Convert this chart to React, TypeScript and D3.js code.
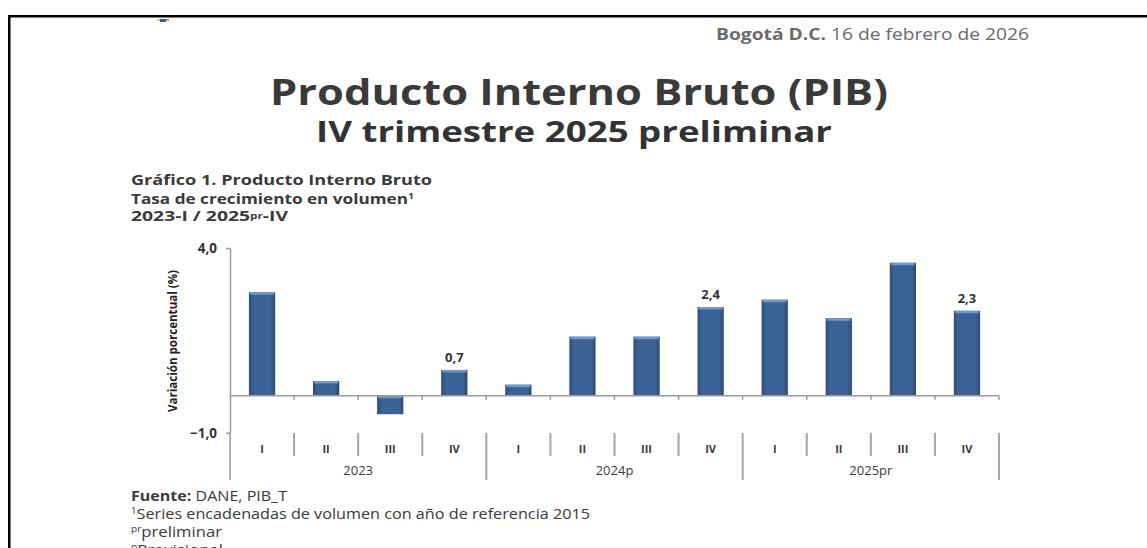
import React, { useEffect, useRef } from "react";
import * as d3 from "d3";

// quarters, year groups and growth rates (%)
const quarters = ["I", "II", "III", "IV", "I", "II", "III", "IV", "I", "II", "III", "IV"];
const years = ["2023", "2024p", "2025pr"];
const growth = [2.8, 0.4, -0.5, 0.7, 0.3, 1.6, 1.6, 2.4, 2.6, 2.1, 3.6, 2.3];
const labelled = [3, 7, 11];
const yTicks = [-1, 4];

const W = 1147;
const H = 548;

const App = () => {
  const ref = useRef<SVGSVGElement>(null);

  useEffect(() => {
    const svg = d3.select(ref.current);
    svg.selectAll("*").remove();

    const fmt = d3.formatLocale({ decimal: ",", thousands: ".", grouping: [3], currency: ["$", ""] }).format(".1f");
    const font = "'Open Sans', 'Noto Sans', sans-serif";
    const ids = growth.map((_, i) => String(i));

    const slot = d3.scaleBand().domain(ids).range([230, 999]);
    const x = d3.scaleBand().domain(ids).range([230, 999]).paddingInner(0.59).paddingOuter(0.295);
    const y = d3.scaleLinear().domain([-1, 4]).range([432.7, 248]);

    // the page is a bit stretched sideways, so long texts get a fixed width
    const fit = (sel: any, len: number) => sel.attr("textLength", len).attr("lengthAdjust", "spacingAndGlyphs");

    const defs = svg.append("defs");
    const grad = defs.append("linearGradient").attr("id", "barGrad").attr("x1", 0).attr("x2", 1).attr("y1", 0).attr("y2", 0);
    grad.append("stop").attr("offset", 0).attr("stop-color", "#2c4f7d");
    grad.append("stop").attr("offset", 0.18).attr("stop-color", "#3b6395");
    grad.append("stop").attr("offset", 0.82).attr("stop-color", "#3b6395");
    grad.append("stop").attr("offset", 1).attr("stop-color", "#2a4a75");

    // page frame
    svg.append("rect").attr("x", 8).attr("y", 15).attr("width", W - 8).attr("height", 2.5).attr("fill", "#000");
    svg.append("rect").attr("x", 8).attr("y", 15).attr("width", 2.5).attr("height", H - 15).attr("fill", "#000");
    // tiny logo remnant
    svg.append("rect").attr("x", 157).attr("y", 19).attr("width", 3).attr("height", 2).attr("fill", "#e8c34a");
    svg.append("rect").attr("x", 160).attr("y", 19).attr("width", 6).attr("height", 3).attr("fill", "#2a62a8");
    svg.append("rect").attr("x", 166).attr("y", 19).attr("width", 3).attr("height", 1.5).attr("fill", "#d9534f");

    const date = svg.append("text").attr("x", 716).attr("y", 39.5).attr("font-family", font).attr("font-size", 15.5).attr("fill", "#6a6a6a");
    date.append("tspan").attr("font-weight", "bold").text("Bogotá D.C.");
    date.append("tspan").text(" 16 de febrero de 2026");
    fit(date, 313);

    fit(svg.append("text").attr("x", 270).attr("y", 105)
      .attr("font-family", font).attr("font-weight", "bold").attr("font-size", 35).attr("fill", "#3a3a3a")
      .text("Producto Interno Bruto (PIB)"), 618);
    fit(svg.append("text").attr("x", 316).attr("y", 142)
      .attr("font-family", font).attr("font-weight", "bold").attr("font-size", 28).attr("fill", "#333")
      .text("IV trimestre 2025 preliminar"), 516);

    const head = svg.append("g").attr("font-family", font).attr("font-weight", "bold").attr("font-size", 14).attr("fill", "#3a3a3a");
    fit(head.append("text").attr("x", 131).attr("y", 185).text("Gráfico 1. Producto Interno Bruto"), 301);
    const l2 = head.append("text").attr("x", 131).attr("y", 203.5);
    l2.append("tspan").text("Tasa de crecimiento en volumen");
    l2.append("tspan").attr("font-size", 8.5).attr("dy", -5).text("1");
    fit(l2, 283);
    const l3 = head.append("text").attr("x", 131).attr("y", 221);
    l3.append("tspan").text("2023-I / 2025");
    l3.append("tspan").attr("font-size", 8.5).attr("dy", -2).text("pr");
    l3.append("tspan").attr("dy", 2).text("-IV");
    fit(l3, 157);

    // y axis
    const yAxis = svg.append("g").attr("transform", "translate(230,0)")
      .call(d3.axisLeft(y).tickValues(yTicks).tickFormat((d) => fmt(d as number)).tickSize(4).tickSizeOuter(0).tickPadding(9));
    yAxis.select(".domain").attr("stroke", "#9a9a9a").attr("stroke-width", 1.5);
    yAxis.selectAll(".tick line").attr("stroke", "#9a9a9a").attr("stroke-width", 1.5);
    yAxis.selectAll(".tick text").attr("font-family", font).attr("font-size", 13.5).attr("font-weight", "bold").attr("fill", "#333");
    svg.append("line").attr("x1", 230).attr("x2", 230).attr("y1", y(-1)).attr("y2", 480).attr("stroke", "#9a9a9a").attr("stroke-width", 1.5);

    fit(svg.append("text").attr("transform", `translate(177,341) rotate(-90)`).attr("text-anchor", "middle")
      .attr("font-family", font).attr("font-weight", "bold").attr("font-size", 12.5).attr("fill", "#222")
      .text("Variación porcentual (%)"), 142);

    // bars
    const bars = svg.append("g");
    growth.forEach((v, i) => {
      const x0 = x(String(i))!;
      const top = y(Math.max(0, v));
      const h = Math.abs(y(v) - y(0));
      bars.append("rect").attr("x", x0).attr("y", top).attr("width", x.bandwidth()).attr("height", h).attr("fill", "url(#barGrad)");
      bars.append("rect").attr("x", x0 + 1).attr("y", top).attr("width", x.bandwidth() - 2).attr("height", 2.5).attr("rx", 1).attr("fill", "#6f97c8");
    });

    // zero line with small ticks
    svg.append("line").attr("x1", 230).attr("x2", 999).attr("y1", y(0)).attr("y2", y(0)).attr("stroke", "#9a9a9a").attr("stroke-width", 1.5);
    ids.forEach((id) => {
      const bx = slot(id)! + slot.bandwidth();
      svg.append("line").attr("x1", bx).attr("x2", bx).attr("y1", y(0)).attr("y2", y(0) + 4).attr("stroke", "#9a9a9a").attr("stroke-width", 1.5);
    });

    // value labels
    labelled.forEach((i) => {
      svg.append("text").attr("x", x(String(i))! + x.bandwidth() / 2).attr("y", y(growth[i]) - 8)
        .attr("text-anchor", "middle").attr("font-family", font).attr("font-weight", "bold").attr("font-size", 13).attr("fill", "#333")
        .text(fmt(growth[i]));
    });

    // category axis: quarters and year groups
    const cat = svg.append("g").attr("font-family", font).attr("fill", "#3a3a3a");
    ids.forEach((id, i) => {
      const cx = slot(id)! + slot.bandwidth() / 2;
      cat.append("text").attr("x", cx).attr("y", 453).attr("text-anchor", "middle").attr("font-size", 11).attr("font-weight", "bold").text(quarters[i]);
      const bx = slot(id)! + slot.bandwidth();
      const yearEnd = (i + 1) % 4 === 0;
      svg.append("line").attr("x1", bx).attr("x2", bx).attr("y1", 433).attr("y2", yearEnd ? 480 : 456)
        .attr("stroke", "#a5a5a5").attr("stroke-width", 2);
    });
    years.forEach((yr, k) => {
      const x0 = slot(String(k * 4))!;
      const x1 = slot(String(k * 4 + 3))! + slot.bandwidth();
      cat.append("text").attr("x", (x0 + x1) / 2).attr("y", 475).attr("text-anchor", "middle").attr("font-size", 13).text(yr);
    });

    // footnotes
    const foot = svg.append("g").attr("font-family", font).attr("font-size", 14).attr("fill", "#3a3a3a");
    const f1 = foot.append("text").attr("x", 131).attr("y", 501);
    f1.append("tspan").attr("font-weight", "bold").text("Fuente:");
    f1.append("tspan").text(" DANE, PIB_T");
    fit(f1, 156);
    const f2 = foot.append("text").attr("x", 131).attr("y", 519);
    f2.append("tspan").attr("font-size", 8.5).attr("dy", -5).text("1");
    f2.append("tspan").attr("dy", 5).text("Series encadenadas de volumen con año de referencia 2015");
    fit(f2, 459);
    const f3 = foot.append("text").attr("x", 131).attr("y", 537);
    f3.append("tspan").attr("font-size", 8.5).attr("dy", -5).text("pr");
    f3.append("tspan").attr("dy", 5).text("preliminar");
    fit(f3, 91);
    const f4 = foot.append("text").attr("x", 131).attr("y", 555);
    f4.append("tspan").attr("font-size", 8.5).attr("dy", -5).text("p");
    f4.append("tspan").attr("dy", 5).text("Provisional");
    fit(f4, 92);
  }, []);

  return (
    <svg
      ref={ref}
      width={W}
      height={H}
      style={{ position: "fixed", left: 0, top: 0, background: "#fff" }}
    />
  );
};

export default App;
